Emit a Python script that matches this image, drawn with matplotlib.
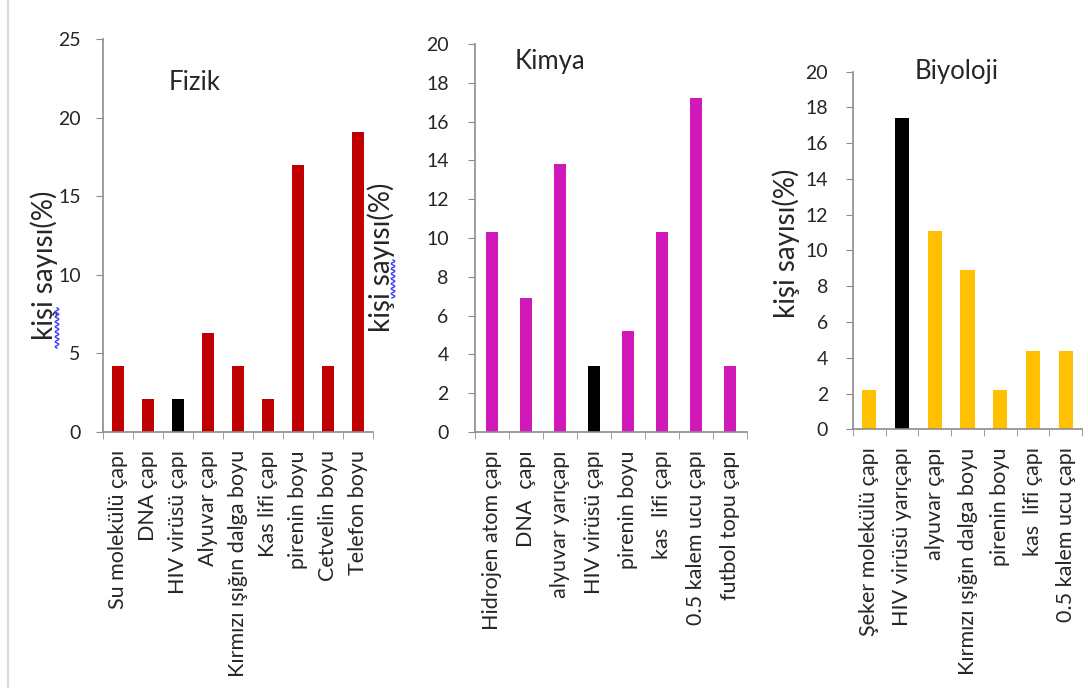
import numpy as np
import matplotlib.pyplot as plt
from matplotlib.lines import Line2D

plt.rcParams['font.family'] = ['Lato', 'DejaVu Sans']

# Fizik
fizik_labels = ["Su molekülü çapı", "DNA çapı", "HIV virüsü çapı", "Alyuvar çapı",
                "Kırmızı ışığın dalga boyu", "Kas lifi çapı", "pirenin boyu",
                "Cetvelin boyu", "Telefon boyu"]
fizik_values = [4.2, 2.1, 2.1, 6.3, 4.2, 2.1, 17.0, 4.2, 19.1]

# Kimya
kimya_labels = ["Hidrojen atom çapı", "DNA  çapı", "alyuvar yarıçapı", "HIV virüsü çapı",
                "pirenin boyu", "kas  lifi çapı", "0.5 kalem ucu çapı", "futbol topu çapı"]
kimya_values = [10.3, 6.9, 13.8, 3.4, 5.2, 10.3, 17.2, 3.4]

# Biyoloji
biyoloji_labels = ["Şeker molekülü çapı", "HIV virüsü yarıçapı", "alyuvar çapı",
                   "Kırmızı ışığın dalga boyu", "pirenin boyu", "kas  lifi çapı",
                   "0.5 kalem ucu çapı"]
biyoloji_values = [2.2, 17.4, 11.1, 8.9, 2.2, 4.4, 4.4]

W, H = 1088, 688
fig = plt.figure(figsize=(W / 100, H / 100), dpi=100)

AXIS_GREY = "#8c8c8c"
TEXT = "#262626"


def px_axes(left, top, right, bottom):
    return fig.add_axes([left / W, 1 - bottom / H, (right - left) / W, (bottom - top) / H])


def bar_panel(ax, labels, values, color, black_idx, ymax, ystep, width, ylab_xy, ypad):
    n = len(values)
    x = np.arange(n)
    colors = [color] * n
    colors[black_idx] = "black"
    ax.bar(x, values, width=width, color=colors)
    ax.set_xlim(-0.5, n - 0.5)
    ax.set_ylim(0, ymax)
    ax.set_yticks(np.arange(0, ymax + 0.1, ystep))
    ax.set_xticks(x, labels, rotation=90, fontsize=15.5)
    ax.set_xticks(np.arange(n + 1) - 0.5, minor=True)
    ax.tick_params(axis="x", which="major", length=0, pad=13, colors=TEXT)
    ax.tick_params(axis="x", which="minor", length=5, color=AXIS_GREY, direction="out")
    ax.tick_params(axis="y", length=5, color=AXIS_GREY, labelsize=14, pad=ypad,
                   labelcolor=TEXT)
    for s in ["top", "right"]:
        ax.spines[s].set_visible(False)
    for s in ["left", "bottom"]:
        ax.spines[s].set_color(AXIS_GREY)
        ax.spines[s].set_linewidth(1.2)
    ax.set_ylabel("kişi sayısı(%)", fontsize=20, color=TEXT)
    ax.yaxis.set_label_coords(*ylab_xy)


ax1 = px_axes(103, 39, 373, 432)
bar_panel(ax1, fizik_labels, fizik_values, "#c00000", 2, 25, 5, 0.4, (-0.167, 0.425), 11)

ax2 = px_axes(475, 44, 747, 432)
bar_panel(ax2, kimya_labels, kimya_values, "#d118b8", 3, 20, 2, 0.36, (-0.294, 0.451), 14)

ax3 = px_axes(853, 71.7, 1082, 429.3)
bar_panel(ax3, biyoloji_labels, biyoloji_values, "#ffc000", 1, 20, 2, 0.43, (-0.231, 0.521), 13)

# panel titles
for txt, cx, cy in [("Fizik", 195, 82), ("Kimya", 550, 62), ("Biyoloji", 957, 72)]:
    fig.text(cx / W, 1 - cy / H, txt, ha="center", va="center", fontsize=18.5, color=TEXT)

# spell-check squiggles under "kişi"
for sx, y0, y1 in [(57, 308, 348), (393, 260, 298)]:
    yy = np.linspace(y0, y1, 80)
    xx = sx + 1.8 * np.sin((yy - y0) / 5.0 * 2 * np.pi)
    fig.add_artist(Line2D(xx / W, 1 - yy / H, color="#3b3bff", lw=1.0))

# page edge on the left
fig.add_artist(Line2D([8 / W, 8 / W], [0, 1], color="#dcdcdc", lw=1.5))

fig.savefig("out.png", dpi=100, facecolor="white")
